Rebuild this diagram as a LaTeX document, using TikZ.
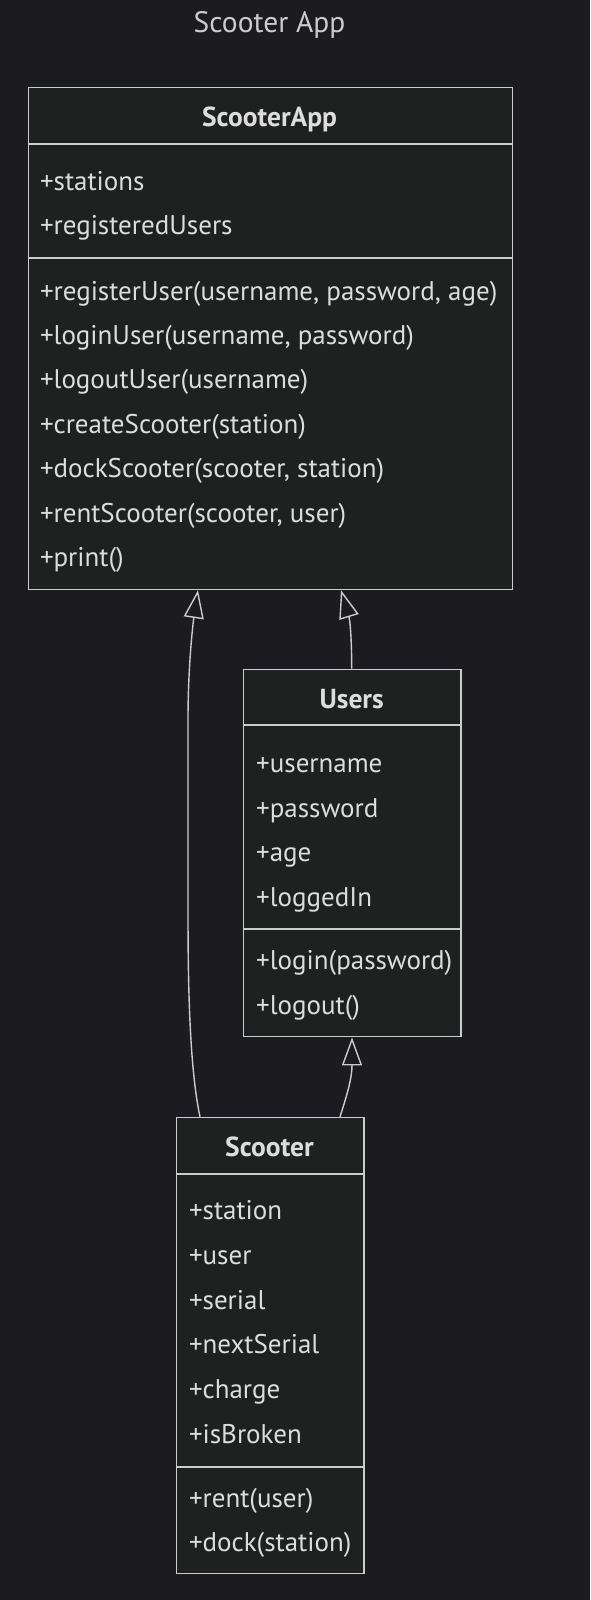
\documentclass[tikz,border=0pt]{standalone}
\usepackage{fontspec}
\setmainfont{PT Sans}
\usetikzlibrary{arrows.meta,positioning}

\definecolor{pagebg}{HTML}{1C1B20}
\definecolor{boxbg}{HTML}{1F2020}
\definecolor{boxline}{HTML}{CCCCCC}
\definecolor{boxtext}{HTML}{DDDDDD}

\begin{document}
\begin{tikzpicture}[x=1pt,y=-1pt,
  classbox/.style={draw=boxline,fill=boxbg,line width=1.4pt,inner sep=0pt,anchor=north west},
  divider/.style={draw=boxline,line width=1.4pt},
  member/.style={text=boxtext,font=\fontsize{27}{31}\selectfont,anchor=west,inner sep=0pt,
    text height=18pt,text depth=6pt,yshift=-3pt},
  classname/.style={member,anchor=center,font=\fontsize{27.5}{31}\selectfont\bfseries},
  inherit/.style={draw=boxline,line width=1.4pt,-{Triangle[open,length=28pt,width=20pt]}}]
  \fill[pagebg] (0,0) rectangle (590,1600);
  \useasboundingbox (0,0) rectangle (590,1600);
  \node[member,anchor=center,text=boxline,font=\fontsize{29.5}{33}\selectfont] (title) at (269.5,23.5) {Scooter App};

  % ScooterApp
  \node[classbox,minimum width=484pt,minimum height=502pt] (app) at (27.6,86.8) {};
  \draw[divider] ([yshift=-57.2pt]app.north west) -- ([yshift=-57.2pt]app.north east);
  \draw[divider] ([yshift=-171.2pt]app.north west) -- ([yshift=-171.2pt]app.north east);
  \node[classname] (appname) at (269.5,117.4) {ScooterApp};
  \foreach \t [count=\i] in {+stations,+registeredUsers}
    \node[member] (appa\i) at (39.8,181.7+\i*44-44) {\t};
  \foreach \t [count=\i] in {{+registerUser(username, password, age)},{+loginUser(username, password)},
      +logoutUser(username),+createScooter(station),{+dockScooter(scooter, station)},
      {+rentScooter(scooter, user)},+print()}
    \node[member] (appm\i) at (39.8,291+\i*44.4-44.4) {\t};

  % Users
  \node[classbox,minimum width=217.4pt,minimum height=367.4pt] (users) at (243,668.6) {};
  \draw[divider] ([yshift=-56.2pt]users.north west) -- ([yshift=-56.2pt]users.north east);
  \draw[divider] ([yshift=-260.4pt]users.north west) -- ([yshift=-260.4pt]users.north east);
  \node[classname] (usersname) at (351.7,699) {Users};
  \foreach \t [count=\i] in {+username,+password,+age,+loggedIn}
    \node[member] (usersa\i) at (256,763.6+\i*44.6-44.6) {\t};
  \foreach \t [count=\i] in {+login(password),+logout()}
    \node[member] (usersm\i) at (256,960.6+\i*44.9-44.9) {\t};

  % Scooter
  \node[classbox,minimum width=187.8pt,minimum height=456.2pt] (scooter) at (175.6,1116.8) {};
  \draw[divider] ([yshift=-57.2pt]scooter.north west) -- ([yshift=-57.2pt]scooter.north east);
  \draw[divider] ([yshift=-350.2pt]scooter.north west) -- ([yshift=-350.2pt]scooter.north east);
  \node[classname] (scootername) at (269.5,1147.4) {Scooter};
  \foreach \t [count=\i] in {+station,+user,+serial,+nextSerial,+charge,+isBroken}
    \node[member] (scootera\i) at (188.8,1210.7+\i*44.7-44.7) {\t};
  \foreach \t [count=\i] in {+rent(user),+dock(station)}
    \node[member] (scooterm\i) at (188.8,1498.5+\i*43.9-43.9) {\t};

  % inheritance
  \draw[inherit] ([xshift=24.4pt]scooter.north west) .. controls +(-12,-56) and +(0,60) .. (188,900)
    -- (188,720) .. controls +(0,-60) and +(-4,26) .. ([xshift=170.4pt]app.south west);
  \draw[inherit] ([xshift=108.7pt]users.north west) .. controls +(0,-30) and +(9,30) .. ([xshift=313.4pt]app.south west);
  \draw[inherit] ([xshift=164.4pt]scooter.north west) .. controls +(8,-25) and +(0,40) .. ([xshift=109pt]users.south west);
\end{tikzpicture}
\end{document}
